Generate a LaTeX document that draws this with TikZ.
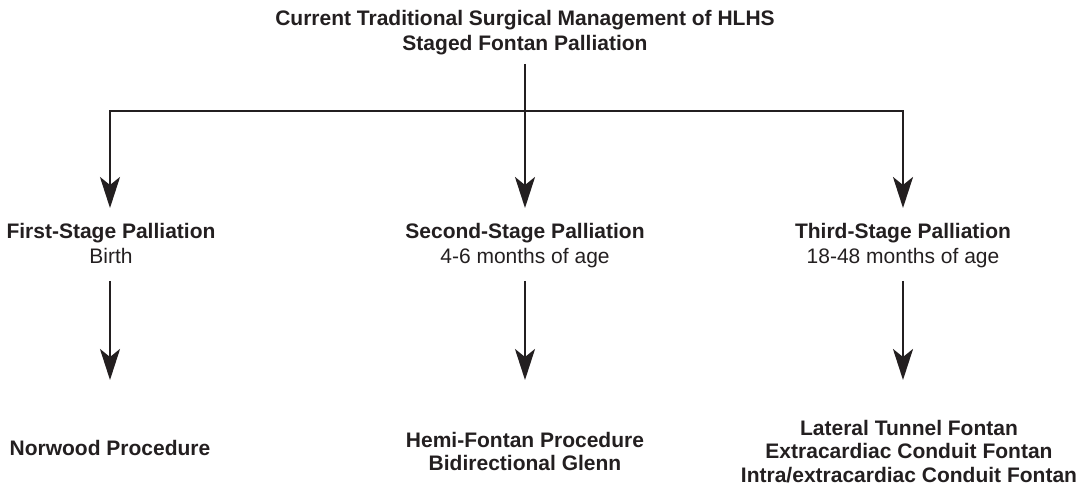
\documentclass[tikz,border=0pt]{standalone}
\usepackage{fontspec}
\setmainfont{Liberation Sans}
\usetikzlibrary{arrows.meta}
\definecolor{ink}{HTML}{231F20}
\tikzset{
  lbl/.style={inner sep=0pt, align=center, text=ink, font=\fontsize{21bp}{25bp}\selectfont, anchor=north},
  blbl/.style={lbl, font=\fontsize{21bp}{25bp}\selectfont\bfseries},
  plbl/.style={lbl, font=\fontsize{21bp}{23.5bp}\selectfont\bfseries},
  conn/.style={draw=ink, line width=2.6bp},
  arr/.style={conn, -{Stealth[length=31bp,width=20bp,inset=8bp]}}
}
\begin{document}
\begin{tikzpicture}[x=1bp,y=-1bp]
\useasboundingbox (0,0) rectangle (1088,489);
% title
\node[blbl] (title) at (525,10) {Current Traditional Surgical Management of HLHS\\Staged Fontan Palliation};
% stages
\node[blbl] (s1) at (111,223) {First-Stage Palliation\\\mdseries Birth};
\node[blbl] (s2) at (525,223) {Second-Stage Palliation\\\mdseries 4-6 months of age};
\node[blbl] (s3) at (903,223) {Third-Stage Palliation\\\mdseries 18-48 months of age};
% procedures
\node[plbl] (p1) at (110,440) {Norwood Procedure};
\node[plbl] (p2) at (525,432) {Hemi-Fontan Procedure\\Bidirectional Glenn};
\node[plbl] (p3) at (909,420) {Lateral Tunnel Fontan\\Extracardiac Conduit Fontan\\Intra/extracardiac Conduit Fontan};
% connector points
\coordinate (t0) at (525,64);
\coordinate (j) at (525,111);
\coordinate (a1) at (110,208);
\coordinate (a2) at (525,208);
\coordinate (a3) at (903,208);
\coordinate (b1) at (110,281);
\coordinate (b2) at (525,281);
\coordinate (b3) at (903,281);
\coordinate (c1) at (110,380);
\coordinate (c2) at (525,380);
\coordinate (c3) at (903,380);
\draw[conn] (t0) -- (j);
\draw[arr] (j) -| (a1);
\draw[arr] (j) -| (a3);
\draw[arr] (j) -- (a2);
\draw[arr] (b1) -- (c1);
\draw[arr] (b2) -- (c2);
\draw[arr] (b3) -- (c3);
\end{tikzpicture}
\end{document}
